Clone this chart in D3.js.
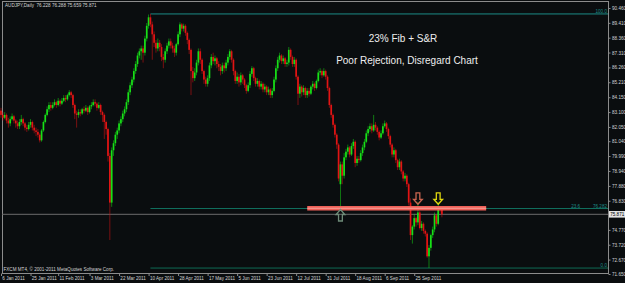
<!DOCTYPE html>
<html>
<head>
<meta charset="utf-8">
<script src="https://cdn.jsdelivr.net/npm/d3@7"></script>
<style>
  html, body { margin: 0; padding: 0; background: #0a0d0f; overflow: hidden; }
  svg { display: block; }
  .mt { font-family: "Liberation Sans", Arial, sans-serif; font-size: 4.6px; fill: #d4d4d4; }
  .note { font-family: "Liberation Sans", Arial, sans-serif; font-size: 10px; fill: #eeeeee; }
</style>
</head>
<body>
<div id="chart"></div>
<script>
// AUDJPY daily - fib + S&R chart
(function () {
  ///////////////////////////////////////////////////////////// ! Data
  const symbolTitle = "AUDJPY,Daily";
  const copyright = "FXCM MT4, \u00a9 2001-2011 MetaQuotes Software Corp.";
  const notes = ["23% Fib + S&R", "Poor Rejection, Disregard Chart"];

  // one value per daily bar
  const opens = [
    83.2, 82.9, 82.7, 82.9, 82.5, 82.3, 82.6, 82.8, 82.5, 82.3,
    82.1, 82.4, 82.6, 82.3, 82.0, 81.9, 82.2, 82.4, 82.0, 81.8,
    81.7, 81.5, 81.1, 81.8, 82.4, 82.9, 83.3, 83.6, 83.4, 83.6,
    83.8, 83.6, 83.9, 83.7, 83.9, 84.1, 84.0, 84.3, 84.5, 84.3,
    83.6, 83.0, 82.9, 83.1, 83.0, 83.3, 83.2, 83.4, 83.1, 83.5,
    83.6, 83.8, 83.7, 83.4, 83.6, 83.1, 82.9, 82.4, 81.9, 80.0,
    76.7, 80.4, 80.9, 81.5, 81.8, 82.3, 82.6, 83.0, 83.3, 83.8,
    84.5, 85.0, 85.4, 86.0, 86.5, 87.1, 87.4, 87.6, 87.3, 88.3,
    89.2, 89.8, 89.3, 88.6, 88.0, 87.6, 88.0, 87.7, 87.0, 86.8,
    87.4, 87.8, 88.1, 87.8, 87.6, 87.3, 87.9, 88.6, 89.3, 89.0,
    89.2, 88.7, 88.2, 87.5, 86.0, 85.5, 85.9, 86.6, 87.4, 86.8,
    86.0, 85.4, 85.1, 85.5, 86.4, 87.0, 86.7, 86.9, 86.5, 86.3,
    86.0, 86.4, 86.2, 86.6, 87.0, 87.4, 86.8, 86.0, 85.3, 85.6,
    85.2, 85.7, 85.4, 85.0, 84.6, 85.0, 85.8, 86.2, 85.5, 85.1,
    85.3, 84.9, 85.1, 84.7, 84.9, 84.5, 84.7, 84.3, 84.6, 85.4,
    86.2, 86.8, 87.1, 86.7, 86.9, 86.5, 86.6, 87.5, 87.0, 86.5,
    86.8, 85.6, 84.4, 84.9, 84.5, 84.8, 84.3, 84.6, 84.4, 84.9,
    85.1, 84.8, 85.3, 85.9, 86.0, 85.7, 86.0, 85.6, 84.8, 83.6,
    82.9, 82.2, 81.5, 80.8, 78.0, 79.4, 78.6, 79.9, 80.3, 80.6,
    80.1, 80.7, 81.0, 79.5, 79.8, 79.7, 80.2, 80.6, 81.0, 81.6,
    81.9, 82.1, 81.8, 82.2, 82.0, 81.7, 81.3, 81.6, 82.1, 82.3,
    81.9, 81.4, 80.8, 80.1, 80.4, 79.7, 79.2, 79.6, 78.9, 78.4,
    78.6, 78.0, 76.7, 74.4, 75.0, 75.6, 75.3, 76.0, 74.9, 75.2,
    74.7, 74.5, 72.9, 73.5, 74.4, 74.8, 75.8, 75.2, 76.3, 76.228
  ];
  const highs = [
    83.4, 83.1, 83.1, 83.0, 82.7, 82.8, 83.0, 82.9, 82.6, 82.5,
    82.6, 82.9, 82.7, 82.4, 82.2, 82.4, 82.6, 82.5, 82.2, 82.0,
    81.9, 81.6, 81.9, 82.5, 83.0, 83.5, 83.8, 83.8, 83.8, 84.0,
    83.9, 84.1, 84.0, 84.1, 84.3, 84.3, 84.4, 84.65, 84.6, 84.4,
    83.7, 83.2, 83.3, 83.3, 83.4, 83.5, 83.6, 83.5, 83.6, 83.8,
    84.0, 84.0, 83.8, 83.8, 83.7, 83.2, 83.0, 82.5, 82.0, 80.2,
    80.6, 81.1, 81.7, 82.0, 82.5, 82.8, 83.2, 83.5, 84.0, 84.7,
    85.2, 85.6, 86.2, 86.7, 87.3, 87.6, 87.8, 87.8, 88.5, 89.4,
    90.0, 90.04, 89.5, 88.8, 88.2, 88.3, 88.2, 87.9, 87.2, 87.6,
    88.0, 88.3, 88.3, 88.0, 87.8, 88.0, 88.8, 89.45, 89.4, 89.35,
    89.3, 88.8, 88.3, 87.6, 86.3, 86.2, 86.8, 87.6, 87.6, 86.9,
    86.1, 85.6, 85.7, 86.6, 87.2, 87.3, 87.1, 87.0, 86.7, 86.5,
    86.6, 86.6, 86.8, 87.2, 87.55, 87.5, 86.9, 86.1, 85.9, 85.8,
    85.9, 85.8, 85.5, 85.1, 85.2, 86.0, 86.35, 86.3, 85.6, 85.5,
    85.4, 85.3, 85.2, 85.1, 85.0, 84.9, 84.8, 84.8, 85.6, 86.4,
    87.0, 87.3, 87.2, 87.1, 87.0, 86.8, 87.7, 87.6, 87.1, 87.0,
    86.9, 85.7, 85.1, 85.0, 85.0, 84.9, 84.8, 84.8, 85.0, 85.3,
    85.2, 85.4, 86.1, 86.2, 86.1, 86.2, 86.1, 85.7, 84.9, 83.7,
    83.0, 82.3, 81.6, 80.9, 79.6, 79.6, 80.2, 80.5, 80.8, 80.7,
    80.9, 81.2, 81.1, 80.0, 80.0, 80.4, 80.8, 81.2, 81.8, 82.1,
    82.3, 82.3, 82.9, 82.4, 82.1, 81.8, 81.8, 82.3, 82.5, 82.4,
    82.0, 81.5, 80.9, 80.6, 80.5, 79.8, 79.8, 79.7, 79.0, 78.8,
    78.7, 78.1, 77.0, 75.1, 75.9, 75.7, 76.75, 76.1, 75.4, 75.3,
    74.8, 74.6, 73.7, 74.5, 75.0, 76.0, 75.9, 76.75, 76.45, 76.288
  ];
  const lows = [
    82.7, 82.5, 82.6, 82.3, 82.0, 82.1, 82.5, 82.3, 82.0, 81.9,
    81.9, 82.2, 82.1, 81.8, 81.7, 81.8, 82.0, 81.8, 81.6, 81.4,
    81.3, 80.95, 81.0, 81.7, 82.3, 82.8, 83.1, 83.2, 83.3, 83.5,
    83.4, 83.5, 83.5, 83.6, 83.8, 83.8, 83.9, 84.2, 84.1, 83.4,
    82.6, 82.0, 82.7, 82.8, 82.9, 83.0, 83.1, 82.9, 83.0, 83.3,
    83.5, 83.5, 83.2, 83.3, 82.9, 82.4, 81.2, 81.5, 79.6, 74.05,
    76.4, 80.0, 80.7, 81.2, 81.6, 82.1, 82.4, 82.8, 83.1, 83.6,
    84.3, 84.8, 85.2, 85.8, 86.3, 86.9, 86.8, 86.6, 87.1, 88.1,
    89.0, 89.1, 86.8, 87.7, 87.3, 87.4, 87.4, 86.7, 86.2, 86.6,
    87.2, 87.6, 87.6, 87.3, 87.0, 87.1, 87.8, 88.4, 88.8, 88.8,
    88.5, 87.9, 87.2, 84.3, 85.2, 85.3, 85.7, 86.4, 86.5, 85.8,
    85.1, 84.9, 84.9, 85.3, 86.2, 86.5, 86.4, 86.2, 86.0, 85.7,
    85.8, 85.9, 86.0, 86.4, 86.8, 86.6, 85.7, 85.1, 85.1, 84.9,
    85.0, 85.1, 84.8, 84.4, 84.5, 84.8, 85.6, 85.3, 84.9, 84.9,
    84.7, 84.7, 84.5, 84.5, 84.3, 84.3, 84.1, 84.1, 84.5, 85.2,
    86.0, 86.6, 86.5, 86.5, 86.3, 86.3, 86.4, 86.8, 86.3, 86.3,
    85.4, 83.6, 84.1, 84.2, 84.3, 84.1, 84.1, 84.2, 84.3, 84.7,
    84.6, 84.7, 85.2, 85.7, 85.5, 85.6, 85.4, 84.6, 83.4, 82.7,
    82.0, 81.3, 80.5, 78.2, 76.25, 78.0, 78.4, 79.7, 80.1, 79.9,
    80.0, 80.5, 79.2, 79.3, 79.5, 79.6, 80.0, 80.4, 80.9, 81.4,
    81.7, 81.6, 81.7, 81.8, 81.5, 81.1, 81.2, 81.5, 82.0, 81.7,
    81.2, 80.6, 79.9, 79.9, 79.5, 79.0, 79.0, 78.7, 78.2, 78.2,
    77.8, 76.5, 74.05, 73.8, 74.8, 75.0, 75.1, 74.8, 74.7, 74.5,
    74.3, 72.8, 72.07, 73.3, 74.2, 74.6, 75.0, 75.1, 76.0, 75.659
  ];
  const closes = [
    82.9, 82.7, 82.9, 82.5, 82.3, 82.6, 82.8, 82.5, 82.3, 82.1,
    82.4, 82.6, 82.3, 82.0, 81.9, 82.2, 82.4, 82.0, 81.8, 81.7,
    81.5, 81.1, 81.8, 82.4, 82.9, 83.3, 83.6, 83.4, 83.6, 83.8,
    83.6, 83.9, 83.7, 83.9, 84.1, 84.0, 84.3, 84.5, 84.3, 83.6,
    83.0, 82.9, 83.1, 83.0, 83.3, 83.2, 83.4, 83.1, 83.5, 83.6,
    83.8, 83.7, 83.4, 83.6, 83.1, 82.9, 82.4, 81.9, 80.0, 76.7,
    80.4, 80.9, 81.5, 81.8, 82.3, 82.6, 83.0, 83.3, 83.8, 84.5,
    85.0, 85.4, 86.0, 86.5, 87.1, 87.4, 87.6, 87.3, 88.3, 89.2,
    89.8, 89.3, 88.6, 88.0, 87.6, 88.0, 87.7, 87.0, 86.8, 87.4,
    87.8, 88.1, 87.8, 87.6, 87.3, 87.9, 88.6, 89.3, 89.0, 89.2,
    88.7, 88.2, 87.5, 86.0, 85.5, 85.9, 86.6, 87.4, 86.8, 86.0,
    85.4, 85.1, 85.5, 86.4, 87.0, 86.7, 86.9, 86.5, 86.3, 86.0,
    86.4, 86.2, 86.6, 87.0, 87.4, 86.8, 86.0, 85.3, 85.6, 85.2,
    85.7, 85.4, 85.0, 84.6, 85.0, 85.8, 86.2, 85.5, 85.1, 85.3,
    84.9, 85.1, 84.7, 84.9, 84.5, 84.7, 84.3, 84.6, 85.4, 86.2,
    86.8, 87.1, 86.7, 86.9, 86.5, 86.6, 87.5, 87.0, 86.5, 86.8,
    85.6, 84.4, 84.9, 84.5, 84.8, 84.3, 84.6, 84.4, 84.9, 85.1,
    84.8, 85.3, 85.9, 86.0, 85.7, 86.0, 85.6, 84.8, 83.6, 82.9,
    82.2, 81.5, 80.8, 78.4, 79.4, 78.6, 79.9, 80.3, 80.6, 80.1,
    80.7, 81.0, 79.5, 79.8, 79.7, 80.2, 80.6, 81.0, 81.6, 81.9,
    82.1, 81.8, 82.2, 82.0, 81.7, 81.3, 81.6, 82.1, 82.3, 81.9,
    81.4, 80.8, 80.1, 80.4, 79.7, 79.2, 79.6, 78.9, 78.4, 78.6,
    78.0, 76.7, 74.4, 75.0, 75.6, 75.3, 76.0, 74.9, 75.2, 74.7,
    74.5, 72.9, 73.5, 74.4, 74.8, 75.8, 75.2, 76.3, 76.25, 75.871
  ];

  // bottom axis: bar index of each date label
  const dateTickBars = [0, 16, 31, 48, 64, 80, 96, 112, 128, 144, 160, 176, 192, 208, 224];
  const dateTickLabels = [
    "6 Jan 2011", "25 Jan 2011", "11 Feb 2011", "3 Mar 2011", "22 Mar 2011",
    "10 Apr 2011", "28 Apr 2011", "17 May 2011", "5 Jun 2011", "23 Jun 2011",
    "12 Jul 2011", "31 Jul 2011", "18 Aug 2011", "6 Sep 2011", "25 Sep 2011"
  ];
  const priceTicks = [
    90.46, 89.41, 88.36, 87.31, 86.26, 85.21, 84.15, 83.1, 82.05,
    81.04, 79.99, 78.94, 77.88, 76.83, 74.77, 73.72, 72.67, 71.65
  ];

  // fibonacci levels (drawn from the high bar to the right)
  const fibLevelNames = ["100.0", "23.6", "0.0"];
  const fibLevelPrices = [90.04, 76.282, 72.07];
  const fibStartBar = 81;

  // hand drawn support/resistance line
  const srLevel = 76.3;
  const srFromBar = 166;
  const srToBar = 263;

  // arrow objects
  const arrowBars = [184, 226, 237];
  const arrowPrices = [76.21, 76.58, 76.58];
  const arrowDirections = ["up", "down", "down"];

  ///////////////////////////////////////////////////////////// ! Setup
  const W = 625, H = 283;
  const plotLeft = 2, plotRight = 608, plotTop = 1, plotBottom = 273;

  const bullColor = "#17e017";
  const bearColor = "#e21414";
  const fibColors = ["#1c8b86", "#11705f", "#0f6a55"];
  const arrowColors = ["#6e8b78", "#c9654f", "#e0d60e"];

  const svg = d3.select("#chart").append("svg")
    .attr("width", W).attr("height", H)
    .style("background", "#0a0d0f");

  const x = d3.scaleLinear().domain([0, 239]).range([1, 441.9]);
  const y = d3.scaleLinear().domain([71.65, 90.46]).range([274, 8]);

  const bars = closes.map((c, i) => ({ i, o: opens[i], h: highs[i], l: lows[i], c }));
  const lastBar = bars[bars.length - 1];

  ///////////////////////////////////////////////////////////// ! Frame
  const frame = svg.append("g").attr("stroke", "#8c8c8c").attr("stroke-width", 1).attr("fill", "none");
  frame.append("line").attr("x1", plotLeft).attr("x2", plotRight).attr("y1", plotTop + 0.5).attr("y2", plotTop + 0.5);
  frame.append("line").attr("x1", plotLeft + 0.5).attr("x2", plotLeft + 0.5).attr("y1", plotTop).attr("y2", plotBottom);
  frame.append("line").attr("x1", plotLeft).attr("x2", plotRight).attr("y1", plotBottom + 0.5).attr("y2", plotBottom + 0.5);
  frame.append("line").attr("x1", plotRight + 0.5).attr("x2", plotRight + 0.5).attr("y1", plotTop).attr("y2", plotBottom + 1);

  ///////////////////////////////////////////////////////////// ! Fibonacci levels
  const fib = svg.append("g");
  fibLevelPrices.forEach((p, k) => {
    fib.append("line")
      .attr("x1", x(fibStartBar)).attr("x2", plotRight)
      .attr("y1", y(p)).attr("y2", y(p))
      .attr("stroke", fibColors[k]).attr("stroke-width", 1);
    const label = fibLevelNames[k] === "23.6"
      ? fibLevelNames[k] + "          " + p.toFixed(3)
      : fibLevelNames[k];
    fib.append("text")
      .attr("class", "mt")
      .attr("x", plotRight - 1).attr("y", y(p) - 0.8)
      .attr("text-anchor", "end")
      .style("fill", fibColors[0])
      .attr("xml:space", "preserve")
      .text(label);
  });

  // current price line
  svg.append("line")
    .attr("x1", plotLeft).attr("x2", plotRight)
    .attr("y1", y(lastBar.c)).attr("y2", y(lastBar.c))
    .attr("stroke", "#6c6c6c").attr("stroke-width", 1);

  ///////////////////////////////////////////////////////////// ! Candles
  const candles = svg.append("g");
  candles.selectAll("line")
    .data(bars).join("line")
    .attr("x1", (d) => x(d.i)).attr("x2", (d) => x(d.i))
    .attr("y1", (d) => y(d.h)).attr("y2", (d) => y(d.l))
    .attr("stroke", (d) => (d.c >= d.o ? bullColor : bearColor))
    .attr("stroke-width", 0.8)
    .attr("opacity", 0.65);

  candles.selectAll("rect")
    .data(bars).join("rect")
    .attr("x", (d) => x(d.i) - 0.85)
    .attr("width", 1.7)
    .attr("y", (d) => y(Math.max(d.o, d.c)))
    .attr("height", (d) => Math.max(0.8, Math.abs(y(d.o) - y(d.c))))
    .attr("fill", (d) => (d.c >= d.o ? bullColor : bearColor));

  ///////////////////////////////////////////////////////////// ! S&R line
  svg.append("line")
    .attr("x1", x(srFromBar)).attr("x2", x(srToBar))
    .attr("y1", y(srLevel)).attr("y2", y(srLevel))
    .attr("stroke", "#ef6058").attr("stroke-width", 4.4);
  svg.append("line")
    .attr("x1", x(srFromBar)).attr("x2", x(srToBar))
    .attr("y1", y(srLevel)).attr("y2", y(srLevel))
    .attr("stroke", "#f7a39b").attr("stroke-width", 1.2);

  ///////////////////////////////////////////////////////////// ! Arrows
  // tip at (0,0) pointing up
  const arrowPath = "M0,0 L4.4,5 L1.9,5 L1.9,11.5 L-1.9,11.5 L-1.9,5 L-4.4,5 Z";
  arrowBars.forEach((b, k) => {
    const flip = arrowDirections[k] === "down" ? -1 : 1;
    svg.append("path")
      .attr("d", arrowPath)
      .attr("transform", `translate(${x(b)},${y(arrowPrices[k])}) scale(1,${flip})`)
      .attr("fill", "none")
      .attr("stroke", arrowColors[k])
      .attr("stroke-width", 1.3)
      .attr("stroke-linejoin", "miter");
  });

  ///////////////////////////////////////////////////////////// ! Axes
  const yAxis = svg.append("g")
    .attr("transform", `translate(${plotRight + 0.5},0)`)
    .call(d3.axisRight(y).tickValues(priceTicks).tickSize(2).tickPadding(1.5).tickFormat(d3.format(".3f")));
  yAxis.select(".domain").remove();
  yAxis.selectAll("line").attr("stroke", "#8c8c8c");
  yAxis.selectAll("text").attr("class", "mt").attr("fill", null);
  yAxis.attr("font-size", null).attr("font-family", null);

  const xAxis = svg.append("g")
    .attr("transform", `translate(0,${plotBottom + 0.5})`)
    .call(d3.axisBottom(x).tickValues(dateTickBars).tickSize(2.5)
      .tickFormat((d, i) => dateTickLabels[i]));
  xAxis.select(".domain").remove();
  xAxis.selectAll("line").attr("stroke", "#8c8c8c");
  xAxis.selectAll("text")
    .attr("class", "mt").attr("fill", null)
    .attr("text-anchor", "start")
    .attr("x", 0.8).attr("y", 3.2);
  xAxis.attr("font-size", null).attr("font-family", null);

  // current price tag on the axis
  const tag = svg.append("g").attr("transform", `translate(${plotRight + 1},${y(lastBar.c)})`);
  tag.append("rect").attr("x", 0).attr("y", -3.3).attr("width", 16).attr("height", 6.6).attr("fill", "#e4e4e4");
  tag.append("text").attr("class", "mt").attr("x", 1.2).attr("y", 1.7)
    .style("fill", "#000").text(lastBar.c.toFixed(3));

  ///////////////////////////////////////////////////////////// ! Texts
  svg.append("text").attr("class", "mt").attr("x", 5).attr("y", 6.8)
    .attr("xml:space", "preserve")
    .text(`${symbolTitle}  ${lastBar.o.toFixed(3)} ${lastBar.h.toFixed(3)} ${lastBar.l.toFixed(3)} ${lastBar.c.toFixed(3)}`);

  svg.append("text").attr("class", "mt").attr("x", 3.5).attr("y", 270.6).text(copyright);

  svg.append("text").attr("class", "note").attr("x", 403).attr("y", 41.5)
    .attr("text-anchor", "middle").text(notes[0]);
  svg.append("text").attr("class", "note").attr("x", 407).attr("y", 63.5)
    .attr("text-anchor", "middle").text(notes[1]);
})();
</script>
</body>
</html>
